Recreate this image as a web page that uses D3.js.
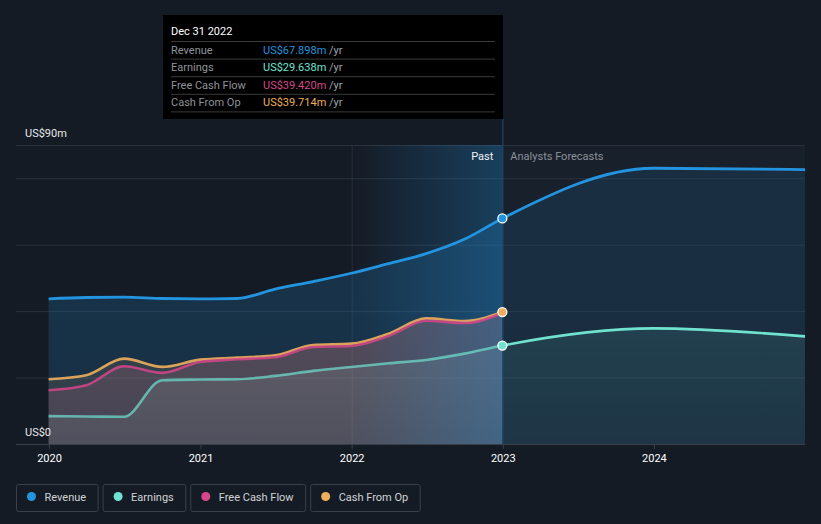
<!DOCTYPE html>
<html>
<head>
<meta charset="utf-8">
<script src="https://cdn.jsdelivr.net/npm/d3@7"></script>
<style>
  html, body { margin: 0; padding: 0; background: #151b25; }
  svg { display: block; font-family: Roboto, "Noto Sans", sans-serif; }
</style>
</head>
<body>
<svg id="chart" width="821" height="524"></svg>
<script>
// ---------------- DATA ----------------
const pastDates = ["2019-12-31","2020-03-31","2020-06-30","2020-09-30","2020-12-31","2021-03-31","2021-06-30","2021-09-30","2021-12-31","2022-03-31","2022-06-30","2022-09-30","2022-12-31"];
const forecastDates = ["2023-12-31","2024-12-31"];
const revenuePast   = [43.7, 44.1, 44.2, 43.8, 43.7, 43.8, 46.6, 48.9, 51.4, 54.3, 57.3, 61.6, 67.898];
const revenueFcst   = [83.0, 82.6];
const earningsPast  = [8.4, 8.3, 8.2, 19.2, 19.4, 19.5, 20.5, 22.0, 23.2, 24.3, 25.3, 27.2, 29.638];
const earningsFcst  = [34.8, 32.4];
const fcfPast       = [16.2, 17.7, 23.4, 21.4, 24.7, 25.5, 26.1, 29.2, 29.5, 32.5, 37.1, 36.4, 39.42];
const cfoPast       = [19.5, 20.7, 25.7, 23.2, 25.4, 26.0, 26.7, 29.8, 30.2, 33.2, 37.8, 37.0, 39.714];
const yTicks = [0, 20, 40, 60, 80, 90];
const yLabels = [{v: 90, t: "US$90m"}, {v: 0, t: "US$0"}];
const xTickYears = [2020, 2021, 2022, 2023, 2024];
const tooltipTitle = "Dec 31 2022";
const tooltipRows = [
  {name: "Revenue", value: "US$67.898m", key: "rev"},
  {name: "Earnings", value: "US$29.638m", key: "earn"},
  {name: "Free Cash Flow", value: "US$39.420m", key: "fcf"},
  {name: "Cash From Op", value: "US$39.714m", key: "cfo"}
];
const legendItems = [
  {name: "Revenue", key: "rev"},
  {name: "Earnings", key: "earn"},
  {name: "Free Cash Flow", key: "fcf"},
  {name: "Cash From Op", key: "cfo"}
];
const colors = {rev: "#2394df", earn: "#6fe3d0", fcf: "#d6478a", cfo: "#eeae5c"};

// ---------------- SETUP ----------------
const parse = d3.timeParse("%Y-%m-%d");
const svg = d3.select("#chart");
const W = 821, H = 524;
const plotL = 16, plotR = 805, plotT = 145, plotB = 444;

const x = d3.scaleTime()
  .domain([parse("2019-12-31"), parse("2024-12-31")])
  .range([48.6, 805]);
const y = d3.scaleLinear().domain([0, 90]).range([plotB, plotT]);

const pd = pastDates.map(parse);
const fd = forecastDates.map(parse);
const nowDate = pd[pd.length - 1];
const xNow = x(nowDate);
const x2022 = x(parse("2022-01-01"));

function series(dates, vals) { return dates.map((d, i) => ({d, v: vals[i]})); }
const revAll  = series(pd.concat(fd), revenuePast.concat(revenueFcst));
const earnAll = series(pd.concat(fd), earningsPast.concat(earningsFcst));
const fcfS = series(pd, fcfPast);
const cfoS = series(pd, cfoPast);

const curve = d3.curveMonotoneX;
const line = d3.line().x(p => x(p.d)).y(p => y(p.v)).curve(curve);
const area = d3.area().x(p => x(p.d)).y0(y(0)).y1(p => y(p.v)).curve(curve);

const defs = svg.append("defs");
defs.append("clipPath").attr("id", "clipPast")
  .append("rect").attr("x", 0).attr("y", 0).attr("width", xNow).attr("height", H);
defs.append("clipPath").attr("id", "clipFcst")
  .append("rect").attr("x", xNow).attr("y", 0).attr("width", W - xNow).attr("height", H);

function vGrad(id, color, topOp, botOp) {
  const g = defs.append("linearGradient").attr("id", id)
    .attr("gradientUnits", "userSpaceOnUse")
    .attr("x1", 0).attr("x2", 0).attr("y1", y(45)).attr("y2", y(0));
  g.append("stop").attr("offset", 0).attr("stop-color", color).attr("stop-opacity", topOp);
  g.append("stop").attr("offset", 1).attr("stop-color", color).attr("stop-opacity", botOp);
}
vGrad("gRevPast", "#2394df", 0.19, 0.17);
vGrad("gCfoPast", "#f0b060", 0.14, 0.10);
vGrad("gFcfPast", "#dc6e96", 0.20, 0.14);
vGrad("gEarnPast", "#a8c8c0", 0.17, 0.10);
vGrad("gRevFcst", "#2394df", 0.12, 0.10);
vGrad("gEarnFcst", "#6fe3d0", 0.12, 0.05);

const band = defs.append("linearGradient").attr("id", "gBand")
  .attr("gradientUnits", "userSpaceOnUse")
  .attr("x1", x2022).attr("x2", xNow).attr("y1", 0).attr("y2", 0);
band.append("stop").attr("offset", 0).attr("stop-color", "#2394df").attr("stop-opacity", 0.0);
band.append("stop").attr("offset", 1).attr("stop-color", "#2394df").attr("stop-opacity", 0.30);

// ---------------- BACKGROUND ----------------
svg.append("rect").attr("width", W).attr("height", H).attr("fill", "#151b25");
svg.append("rect").attr("x", xNow).attr("y", plotT).attr("width", plotR - xNow).attr("height", plotB - plotT)
  .attr("fill", "#18202b");

// gridlines
svg.append("g").selectAll("line").data(yTicks).join("line")
  .attr("x1", plotL).attr("x2", plotR)
  .attr("y1", d => y(d) + 0.5).attr("y2", d => y(d) + 0.5)
  .attr("stroke", d => d === 0 ? "#3a4049" : "#2a313b").attr("stroke-width", 1);

// ---------------- AREAS ----------------
const gPast = svg.append("g").attr("clip-path", "url(#clipPast)");
gPast.append("path").datum(revAll).attr("d", area).attr("fill", "url(#gRevPast)");
gPast.append("path").datum(cfoS).attr("d", area).attr("fill", "url(#gCfoPast)");
gPast.append("path").datum(fcfS).attr("d", area).attr("fill", "url(#gFcfPast)");
gPast.append("path").datum(earnAll).attr("d", area).attr("fill", "url(#gEarnPast)");

const gF = svg.append("g").attr("clip-path", "url(#clipFcst)");
gF.append("path").datum(revAll).attr("d", area).attr("fill", "url(#gRevFcst)");
gF.append("path").datum(earnAll).attr("d", area).attr("fill", "url(#gEarnFcst)");

// past highlight band
svg.append("rect").attr("x", x2022).attr("y", plotT).attr("width", xNow - x2022).attr("height", plotB - plotT)
  .attr("fill", "url(#gBand)");
svg.append("line").attr("x1", x2022 + 0.5).attr("x2", x2022 + 0.5).attr("y1", plotT).attr("y2", plotB)
  .attr("stroke", "rgba(120,160,200,0.14)");

// ---------------- LINES ----------------
svg.append("path").datum(cfoS).attr("d", line).attr("fill", "none").attr("stroke", colors.cfo).attr("stroke-width", 2.6).attr("stroke-opacity", 0.9);
svg.append("path").datum(fcfS).attr("d", line).attr("fill", "none").attr("stroke", colors.fcf).attr("stroke-width", 2.6).attr("stroke-opacity", 0.85);
svg.append("path").datum(earnAll).attr("d", line).attr("fill", "none").attr("stroke", colors.earn).attr("stroke-width", 2.6)
  .attr("clip-path", "url(#clipFcst)");
svg.append("path").datum(earnAll).attr("d", line).attr("fill", "none").attr("stroke", colors.earn).attr("stroke-width", 2.6).attr("stroke-opacity", 0.7)
  .attr("clip-path", "url(#clipPast)");
svg.append("path").datum(revAll).attr("d", line).attr("fill", "none").attr("stroke", colors.rev).attr("stroke-width", 2.8);

// now line
svg.append("line").attr("x1", xNow + 0.5).attr("x2", xNow + 0.5).attr("y1", 119).attr("y2", plotB)
  .attr("stroke", "#1f4e74").attr("stroke-width", 1);

// markers
const markers = [
  {v: revenuePast[revenuePast.length - 1], c: colors.rev},
  {v: cfoPast[cfoPast.length - 1], c: colors.cfo},
  {v: earningsPast[earningsPast.length - 1], c: colors.earn}
];
svg.append("g").selectAll("circle").data(markers).join("circle")
  .attr("cx", xNow).attr("cy", d => y(d.v)).attr("r", 4.5)
  .attr("fill", d => d.c).attr("stroke", "#ffffff").attr("stroke-width", 1.3);

// ---------------- AXES ----------------
const xAxis = d3.axisBottom(x)
  .tickValues(xTickYears.map(yr => new Date(yr, 0, 1)))
  .tickFormat(d3.timeFormat("%Y"))
  .tickSize(5).tickPadding(5);
const gx = svg.append("g").attr("transform", `translate(0,${plotB})`).call(xAxis);
gx.select(".domain").remove();
gx.selectAll(".tick line").attr("stroke", "#3a4049");
gx.selectAll(".tick text").attr("fill", "#ffffff").attr("font-size", 11).attr("font-family", "Roboto, sans-serif");

svg.append("g").selectAll("text").data(yLabels).join("text")
  .attr("x", 25).attr("y", d => y(d.v) - 8)
  .attr("fill", "#e6e8ea").attr("font-size", 11).text(d => d.t);

// Past / Forecasts labels
svg.append("text").attr("x", xNow - 9).attr("y", 160).attr("text-anchor", "end")
  .attr("fill", "#f0f2f4").attr("font-size", 11).text("Past");
svg.append("text").attr("x", xNow + 8).attr("y", 160)
  .attr("fill", "#8b9199").attr("font-size", 11).text("Analysts Forecasts");

// ---------------- TOOLTIP ----------------
const tt = svg.append("g");
tt.append("rect").attr("x", 163).attr("y", 15).attr("width", 340).attr("height", 104).attr("fill", "#000000");
tt.append("text").attr("x", 171).attr("y", 35).attr("fill", "#ffffff").attr("font-size", 11).text(tooltipTitle);
const rowY0 = 41, rowH = 17.6;
tooltipRows.forEach((r, i) => {
  tt.append("line").attr("x1", 171).attr("x2", 495)
    .attr("y1", rowY0 + i * rowH + 0.5).attr("y2", rowY0 + i * rowH + 0.5).attr("stroke", "#3a3a3a");
  const ty = rowY0 + i * rowH + 12.5;
  tt.append("text").attr("x", 171).attr("y", ty).attr("fill", "#8e9399").attr("font-size", 11).text(r.name);
  const t = tt.append("text").attr("x", 263).attr("y", ty).attr("font-size", 11);
  t.append("tspan").attr("fill", colors[r.key]).text(r.value);
  t.append("tspan").attr("fill", "#a0a4a9").text(" /yr");
});
tt.append("line").attr("x1", 171).attr("x2", 495)
  .attr("y1", rowY0 + 4 * rowH + 0.5).attr("y2", rowY0 + 4 * rowH + 0.5).attr("stroke", "#3a3a3a");

// ---------------- LEGEND ----------------
const lg = svg.append("g");
let lx = 16.5;
legendItems.forEach(it => {
  const g = lg.append("g").attr("transform", `translate(${lx},484.5)`);
  const rect = g.append("rect").attr("width", 80).attr("height", 27).attr("rx", 2)
    .attr("fill", "none").attr("stroke", "#3a4049");
  g.append("circle").attr("cx", 15).attr("cy", 12).attr("r", 4.5).attr("fill", colors[it.key]);
  const t = g.append("text").attr("x", 28).attr("y", 16).attr("fill", "#d0d3d6").attr("font-size", 11).text(it.name);
  const w = t.node().getComputedTextLength() + 28 + 12;
  rect.attr("width", w);
  lx += w + 5;
});
</script>
</body>
</html>
